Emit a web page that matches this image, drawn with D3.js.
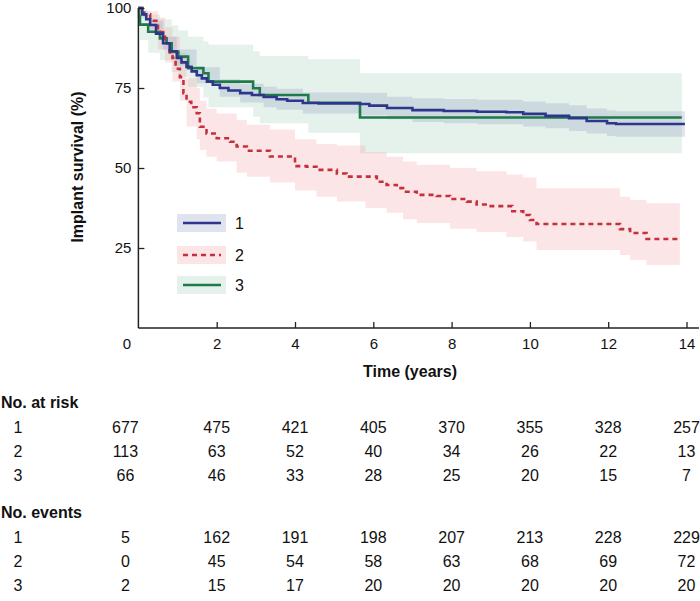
<!DOCTYPE html>
<html>
<head>
<meta charset="utf-8">
<script src="https://cdn.jsdelivr.net/npm/d3@7"></script>
<style>
  body { margin: 0; background: #fff; }
  svg text { font-family: "Liberation Sans", Arial, Helvetica, sans-serif; fill: #111; }
</style>
</head>
<body>
<div id="chart"></div>
<script>
// group 1 (blue, solid)
var g1Time  = [0, 0.1, 0.2, 0.3, 0.45, 0.63, 0.8, 0.98, 1.1, 1.23, 1.36, 1.49, 1.62, 1.75, 1.9, 2.08, 2.3, 2.6, 2.9, 3.2, 3.53, 3.8, 4.2, 4.6, 5.66, 5.9, 6.35, 7.0, 7.8, 8.65, 9.4, 9.83, 10.4, 11.0, 11.45, 11.97, 12.2, 13.96];
var g1Surv  = [100, 98, 96.5, 94.7, 92, 89, 86.5, 84.4, 83, 81.6, 80.2, 79, 78, 77, 76, 75, 74.2, 73.4, 72.8, 72.2, 71.5, 71, 70.3, 70.2, 70, 69.5, 68.75, 68.1, 67.8, 67.6, 67.4, 66.9, 66.3, 65.6, 64.7, 64.0, 63.75, 63.75];
var g1BandTime = [0, 0.1, 0.3, 0.63, 0.98, 1.49, 2.08, 2.6, 3.2, 3.53, 4.2, 5.66, 6.35, 7.0, 7.8, 8.65, 9.83, 10.4, 11.0, 11.45, 11.97, 12.2, 13.96];
var g1Lower = [100, 97, 93.3, 87, 82, 76.5, 72.3, 70.5, 69, 68.2, 67, 66.5, 65.2, 64.4, 64, 63.7, 63, 62.4, 61.6, 60.8, 60, 59.8, 59.8];
var g1Upper = [100, 99, 96, 91, 87, 81.5, 77.7, 76.3, 75.4, 74.8, 73.6, 73.5, 72.3, 71.8, 71.6, 71.3, 70.8, 70.2, 69.6, 68.6, 68, 67.7, 67.7];

// group 2 (red, dashed)
var g2Time  = [0, 0.15, 0.3, 0.5, 0.68, 0.8, 0.87, 0.95, 1.06, 1.15, 1.23, 1.35, 1.49, 1.57, 1.74, 2.0, 2.34, 2.51, 2.77, 3.36, 4.0, 4.3, 4.55, 5.07, 5.32, 6.09, 6.34, 6.6, 6.76, 7.11, 7.62, 7.96, 8.39, 8.64, 9.0, 9.55, 9.83, 10.0, 10.17, 12.3, 12.56, 12.98, 13.8];
var g2Surv  = [100, 98, 96, 92.5, 89, 85, 84.4, 81, 78.4, 73.4, 70.7, 69, 67.1, 62.9, 60.8, 59.3, 58.2, 56.7, 55.4, 53.6, 50.6, 50.4, 49.4, 48.3, 47.3, 45.7, 44.7, 43.7, 42.6, 41.6, 41.25, 40.3, 39.5, 38.6, 38.1, 36.5, 35.3, 33.75, 32.5, 30.9, 29.7, 27.8, 27.8];
var g2BandTime = [0, 0.3, 0.5, 0.68, 0.87, 1.06, 1.23, 1.49, 1.57, 1.74, 2.0, 2.51, 2.77, 3.36, 4.0, 4.55, 5.07, 5.8, 6.34, 6.76, 7.11, 7.96, 8.64, 9.4, 9.83, 10.17, 12.3, 12.56, 12.98, 13.83];
var g2Lower = [100, 92, 87, 83, 77, 71, 63, 59, 55.6, 53.5, 52, 48.5, 47.3, 45.5, 43, 41, 39.5, 37.5, 36, 34, 32.8, 31, 30, 28.4, 27, 24.4, 22.8, 21.25, 19.7, 19.7];
var g2Upper = [100, 99, 97, 94, 91, 86, 78, 75, 71, 68.5, 67, 65, 63.5, 62, 59, 57.5, 57, 55, 53.5, 52, 51, 50, 49, 48, 47, 43.7, 41, 40, 39, 39];

// group 3 (green, solid)
var g3Time  = [0, 0.02, 0.04, 0.25, 0.55, 0.72, 0.85, 1.02, 1.27, 1.66, 1.79, 2.93, 3.1, 4.34, 5.66, 13.88];
var g3Surv  = [100, 97.3, 94.8, 92.6, 90.5, 89, 86.3, 84.8, 81.2, 79.6, 77, 74.9, 72.8, 70.4, 65.8, 65.8];
var g3BandTime = [0, 0.04, 0.25, 0.55, 0.85, 1.02, 1.27, 1.66, 1.79, 2.93, 3.1, 4.34, 5.66, 13.88];
var g3Lower = [100, 90, 86, 83.75, 80, 78.5, 75.3, 72, 69, 66, 64, 61, 54.6, 54.6];
var g3Upper = [100, 99.5, 98, 96.5, 94.5, 93, 91, 89.5, 88.5, 86.5, 85, 84, 79.6, 79.6];

var groups = ["1", "2", "3"];
var xTicks = [2, 4, 6, 8, 10, 12, 14];
var yTicks = [25, 50, 75, 100];
var tableTimes = [0, 2, 4, 6, 8, 10, 12, 14];
var atRisk = [
  [677, 475, 421, 405, 370, 355, 328, 257],
  [113, 63, 52, 40, 34, 26, 22, 13],
  [66, 46, 33, 28, 25, 20, 15, 7]
];
var events = [
  [5, 162, 191, 198, 207, 213, 228, 229],
  [0, 45, 54, 58, 63, 68, 69, 72],
  [2, 15, 17, 20, 20, 20, 20, 20]
];

var width = 700, height = 601;
var svg = d3.select("#chart").append("svg")
  .attr("width", width)
  .attr("height", height);

var x = d3.scaleLinear().domain([0, 14]).range([138.4, 686.5]);
var y = d3.scaleLinear().domain([0, 100]).range([328, 8]);

var lineColors = ["#2e358c", "#c4303c", "#1f7a4a"];
var bandColors = ["#9aaac8", "#f5a3a8", "#9fd0b8"];
var bandOpacity = [0.33, 0.28, 0.28];

var series = [
  {t: g1Time, s: g1Surv, bt: g1BandTime, lo: g1Lower, hi: g1Upper},
  {t: g2Time, s: g2Surv, bt: g2BandTime, lo: g2Lower, hi: g2Upper},
  {t: g3Time, s: g3Surv, bt: g3BandTime, lo: g3Lower, hi: g3Upper}
];

var area = d3.area()
  .curve(d3.curveStepAfter)
  .x(function(d){ return x(d[0]); })
  .y0(function(d){ return y(d[1]); })
  .y1(function(d){ return y(d[2]); });

var line = d3.line()
  .curve(d3.curveStepAfter)
  .x(function(d){ return x(d[0]); })
  .y(function(d){ return y(d[1]); });

// confidence bands (green, red, blue)
[2, 1, 0].forEach(function(i){
  var d = series[i];
  svg.append("path")
    .datum(d.bt.map(function(t, j){ return [t, d.lo[j], d.hi[j]]; }))
    .attr("d", area)
    .attr("fill", bandColors[i])
    .attr("fill-opacity", bandOpacity[i]);
});

// survival curves
[2, 1, 0].forEach(function(i){
  var d = series[i];
  svg.append("path")
    .datum(d.t.map(function(t, j){ return [t, d.s[j]]; }))
    .attr("d", line)
    .attr("fill", "none")
    .attr("stroke", lineColors[i])
    .attr("stroke-width", 2.6)
    .attr("stroke-dasharray", i == 1 ? "5,4" : null);
});

// axes
var axisColor = "#222";
svg.append("line")
  .attr("x1", x(0)).attr("x2", x(0))
  .attr("y1", y(100)).attr("y2", y(0))
  .attr("stroke", axisColor).attr("stroke-width", 1.5);
svg.append("line")
  .attr("x1", x(0)).attr("x2", 699)
  .attr("y1", y(0)).attr("y2", y(0))
  .attr("stroke", axisColor).attr("stroke-width", 1.5);

var xAxis = d3.axisBottom(x).tickValues(xTicks).tickSizeInner(-6).tickSizeOuter(0).tickPadding(10);
var gx = svg.append("g").attr("transform", "translate(0," + y(0) + ")").call(xAxis);
gx.select(".domain").remove();
gx.selectAll("line").attr("stroke", axisColor).attr("stroke-width", 1.3);
gx.selectAll("text").attr("font-size", 15).attr("fill", "#111")
  .attr("y", 16).attr("dy", "0.35em");

var yAxis = d3.axisLeft(y).tickValues(yTicks).tickSizeInner(-6).tickSizeOuter(0).tickPadding(12);
var gy = svg.append("g").attr("transform", "translate(" + x(0) + ",0)").call(yAxis);
gy.select(".domain").remove();
gy.selectAll("line").attr("stroke", axisColor).attr("stroke-width", 1.3);
gy.selectAll("text").attr("font-size", 15).attr("fill", "#111").attr("x", -7);

// origin label
svg.append("text")
  .attr("x", 131).attr("y", 344).attr("dy", "0.35em")
  .attr("text-anchor", "end").attr("font-size", 15)
  .text("0");

// axis titles
svg.append("text")
  .attr("x", 410).attr("y", 371).attr("dy", "0.35em")
  .attr("text-anchor", "middle").attr("font-size", 16).attr("font-weight", "bold")
  .text("Time (years)");
svg.append("text")
  .attr("transform", "translate(77,167) rotate(-90)")
  .attr("dy", "0.35em")
  .attr("text-anchor", "middle").attr("font-size", 16).attr("font-weight", "bold")
  .text("Implant survival (%)");

// legend
var legendY = [223, 255, 285];
groups.forEach(function(g, i){
  var lg = svg.append("g").attr("transform", "translate(177," + legendY[i] + ")");
  lg.append("rect")
    .attr("x", 0).attr("y", -9)
    .attr("width", 49).attr("height", 18)
    .attr("fill", bandColors[i])
    .attr("fill-opacity", bandOpacity[i]);
  lg.append("line")
    .attr("x1", 6).attr("x2", 44)
    .attr("stroke", lineColors[i])
    .attr("stroke-width", 2.6)
    .attr("stroke-dasharray", i == 1 ? "5,4" : null);
  lg.append("text")
    .attr("x", 58).attr("dy", "0.35em")
    .attr("font-size", 16)
    .text(g);
});

// risk table
function colX(t){ return t == 0 ? x(0) - 13 : x(t); }

function drawTable(title, rows, top){
  svg.append("text")
    .attr("x", 1).attr("y", top).attr("dy", "0.35em")
    .attr("font-size", 16).attr("font-weight", "bold")
    .text(title);
  rows.forEach(function(row, i){
    var ry = top + 25 + i * 24;
    svg.append("text")
      .attr("x", 18).attr("y", ry).attr("dy", "0.35em")
      .attr("text-anchor", "middle").attr("font-size", 16)
      .text(groups[i]);
    row.forEach(function(v, j){
      svg.append("text")
        .attr("x", colX(tableTimes[j])).attr("y", ry).attr("dy", "0.35em")
        .attr("text-anchor", "middle").attr("font-size", 16)
        .text(v);
    });
  });
}

drawTable("No. at risk", atRisk, 402);
drawTable("No. events", events, 512);
</script>
</body>
</html>
